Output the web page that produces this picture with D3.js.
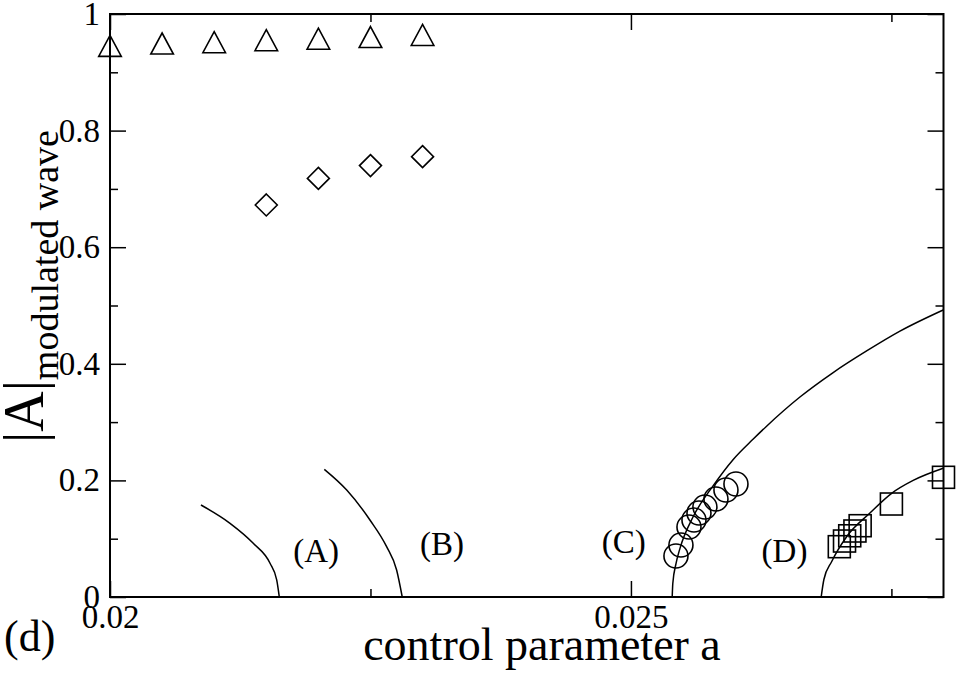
<!DOCTYPE html>
<html><head><meta charset="utf-8">
<script src="https://cdn.jsdelivr.net/npm/d3@7"></script>
<style>
body{margin:0;background:#fff;}
svg{display:block;}
svg text, svg tspan{font-family:"Liberation Serif","Times New Roman",serif !important;fill:#000;}
</style></head>
<body>
<script>
// ---- data ----
const xMajorTicks = [0.02, 0.025];
const xMinorTicks = [0.0225, 0.0275];
const xTickLabels = ["0.02", "0.025"];
const yMajorTicks = [0, 0.2, 0.4, 0.6, 0.8, 1];
const yMinorTicks = [0.1, 0.3, 0.5, 0.7, 0.9];
const yTickLabels = ["0", "0.2", "0.4", "0.6", "0.8", "1"];

const triA = [0.02, 0.0205, 0.021, 0.0215, 0.022, 0.0225, 0.023];
const triV = [0.9454, 0.9494, 0.9516, 0.955, 0.9576, 0.9605, 0.964];

const diaA = [0.0215, 0.022, 0.0225, 0.023];
const diaV = [0.6724, 0.718, 0.740, 0.7553];

const cirA = [0.025432, 0.025480, 0.025557, 0.025605, 0.025653, 0.025710, 0.025816, 0.025912, 0.026008];
const cirV = [0.0703, 0.0892, 0.1201, 0.1321, 0.1441, 0.1544, 0.1681, 0.1835, 0.1938];

const sqA = [0.027, 0.02705, 0.0271, 0.02715, 0.0272, 0.0275, 0.028];
const sqV = [0.0863, 0.096, 0.105, 0.1132, 0.1223, 0.1595, 0.2053];

const curveAa = [0.020873, 0.021152, 0.021375, 0.021536, 0.021600, 0.021625];
const curveAv = [0.1578, 0.1264, 0.0921, 0.0578, 0.0292, 0];
const curveBa = [0.022057, 0.022272, 0.022495, 0.022655, 0.022751, 0.022805];
const curveBv = [0.2190, 0.1835, 0.1321, 0.0863, 0.0463, 0];
const curveCa = [0.025396, 0.025402, 0.025432, 0.02547, 0.025598, 0.025790, 0.025982, 0.026174, 0.026302, 0.026622, 0.026941, 0.027262, 0.027582, 0.027997];
const curveCv = [0, 0.0236, 0.057, 0.083, 0.138, 0.191, 0.236, 0.271, 0.293, 0.343, 0.385, 0.422, 0.456, 0.4923];
const curveDa = [0.026826, 0.026852, 0.026926, 0.027070, 0.027294, 0.027502, 0.027709, 0.027997];
const curveDv = [0, 0.030, 0.0605, 0.1034, 0.1441, 0.1779, 0.200, 0.2208];

const curveLabels = ["(A)", "(B)", "(C)", "(D)"];
const curveLabelA = [0.021759, 0.022975, 0.024719, 0.026254];
const curveLabelV = [0.060, 0.072, 0.0755, 0.060];

// ---- layout ----
const W = 956, H = 675;
const L = 110, R = 943.5, T = 14, B = 597;
const FONT = '"Liberation Serif","Times New Roman",serif';
const svg = d3.select("body").append("svg").attr("width", W).attr("height", H)
  .style("font-family", FONT);
const x = d3.scaleLinear().domain([0.02, 0.028]).range([L, R]);
const y = d3.scaleLinear().domain([0, 1]).range([B, T]);

const tickFont = 33;
function styleAxis(g){
  g.attr("font-family", null).style("font-family", FONT);
  g.select(".domain").remove();
  g.selectAll(".tick line").attr("stroke","#000").attr("stroke-width",1.5);
  g.selectAll(".tick text").attr("font-size",tickFont).style("font-family",FONT).attr("fill","#000");
}
// bottom
svg.append("g").attr("transform",`translate(0,${B})`)
  .call(d3.axisBottom(x).tickValues(xMajorTicks).tickSize(-16).tickPadding(8)
    .tickFormat((d,i)=>xTickLabels[i])).call(styleAxis);
svg.append("g").attr("transform",`translate(0,${B})`)
  .call(d3.axisBottom(x).tickValues(xMinorTicks).tickSize(-8).tickFormat("")).call(styleAxis);
// top
svg.append("g").attr("transform",`translate(0,${T})`)
  .call(d3.axisTop(x).tickValues(xMajorTicks).tickSize(-16).tickFormat("")).call(styleAxis);
svg.append("g").attr("transform",`translate(0,${T})`)
  .call(d3.axisTop(x).tickValues(xMinorTicks).tickSize(-8).tickFormat("")).call(styleAxis);
// left
svg.append("g").attr("transform",`translate(${L},0)`)
  .call(d3.axisLeft(y).tickValues(yMajorTicks).tickSize(-16).tickPadding(10)
    .tickFormat((d,i)=>yTickLabels[i])).call(styleAxis);
svg.append("g").attr("transform",`translate(${L},0)`)
  .call(d3.axisLeft(y).tickValues(yMinorTicks).tickSize(-8).tickFormat("")).call(styleAxis);
// right
svg.append("g").attr("transform",`translate(${R},0)`)
  .call(d3.axisRight(y).tickValues(yMajorTicks).tickSize(-16).tickFormat("")).call(styleAxis);
svg.append("g").attr("transform",`translate(${R},0)`)
  .call(d3.axisRight(y).tickValues(yMinorTicks).tickSize(-8).tickFormat("")).call(styleAxis);

// frame
svg.append("rect").attr("x",L).attr("y",T).attr("width",R-L).attr("height",B-T)
  .attr("fill","none").attr("stroke","#000").attr("stroke-width",2);

// curves
const line = d3.line().x(d=>x(d[0])).y(d=>y(d[1])).curve(d3.curveMonotoneX);
[[curveAa,curveAv],[curveBa,curveBv],[curveCa,curveCv],[curveDa,curveDv]].forEach(([a,v])=>{
  svg.append("path").datum(a.map((d,i)=>[d,v[i]])).attr("d",line)
    .attr("fill","none").attr("stroke","#000").attr("stroke-width",1.5);
});

const mk = {fill:"none", stroke:"#000", sw:1.6};
// triangles
svg.append("g").selectAll("path").data(triA.map((d,i)=>[d,triV[i]])).join("path")
  .attr("transform",d=>`translate(${x(d[0])},${y(d[1])})`)
  .attr("d","M0,-10.5L11.3,10.5L-11.3,10.5Z")
  .attr("fill",mk.fill).attr("stroke",mk.stroke).attr("stroke-width",mk.sw);
// diamonds
svg.append("g").selectAll("path").data(diaA.map((d,i)=>[d,diaV[i]])).join("path")
  .attr("transform",d=>`translate(${x(d[0])},${y(d[1])})`)
  .attr("d","M0,-11L11,0L0,11L-11,0Z")
  .attr("fill",mk.fill).attr("stroke",mk.stroke).attr("stroke-width",mk.sw);
// circles
svg.append("g").selectAll("circle").data(cirA.map((d,i)=>[d,cirV[i]])).join("circle")
  .attr("cx",d=>x(d[0])).attr("cy",d=>y(d[1])).attr("r",12)
  .attr("fill",mk.fill).attr("stroke",mk.stroke).attr("stroke-width",mk.sw);
// squares
svg.append("g").selectAll("rect").data(sqA.map((d,i)=>[d,sqV[i]])).join("rect")
  .attr("x",d=>x(d[0])-11).attr("y",d=>y(d[1])-11).attr("width",22).attr("height",22)
  .attr("fill",mk.fill).attr("stroke",mk.stroke).attr("stroke-width",mk.sw);

// curve labels
svg.append("g").selectAll("text").data(curveLabels).join("text")
  .attr("x",(d,i)=>x(curveLabelA[i])).attr("y",(d,i)=>y(curveLabelV[i]))
  .attr("font-size",33).style("font-family",FONT).text(d=>d);

// axis titles
svg.append("text").attr("x",542).attr("y",660).attr("text-anchor","middle")
  .attr("font-size",46).style("font-family",FONT).text("control parameter a");

const yt = svg.append("text").attr("transform","translate(43,443) rotate(-90)")
  .attr("font-size",56).style("font-family",FONT);
yt.append("tspan").style("font-family",FONT).text("|A|");
yt.append("tspan").style("font-family",FONT).attr("font-size",38).attr("dy",15).text("modulated wave");

svg.append("text").attr("x",4).attr("y",651).attr("font-size",44).style("font-family",FONT).text("(d)");
</script>
</body></html>
